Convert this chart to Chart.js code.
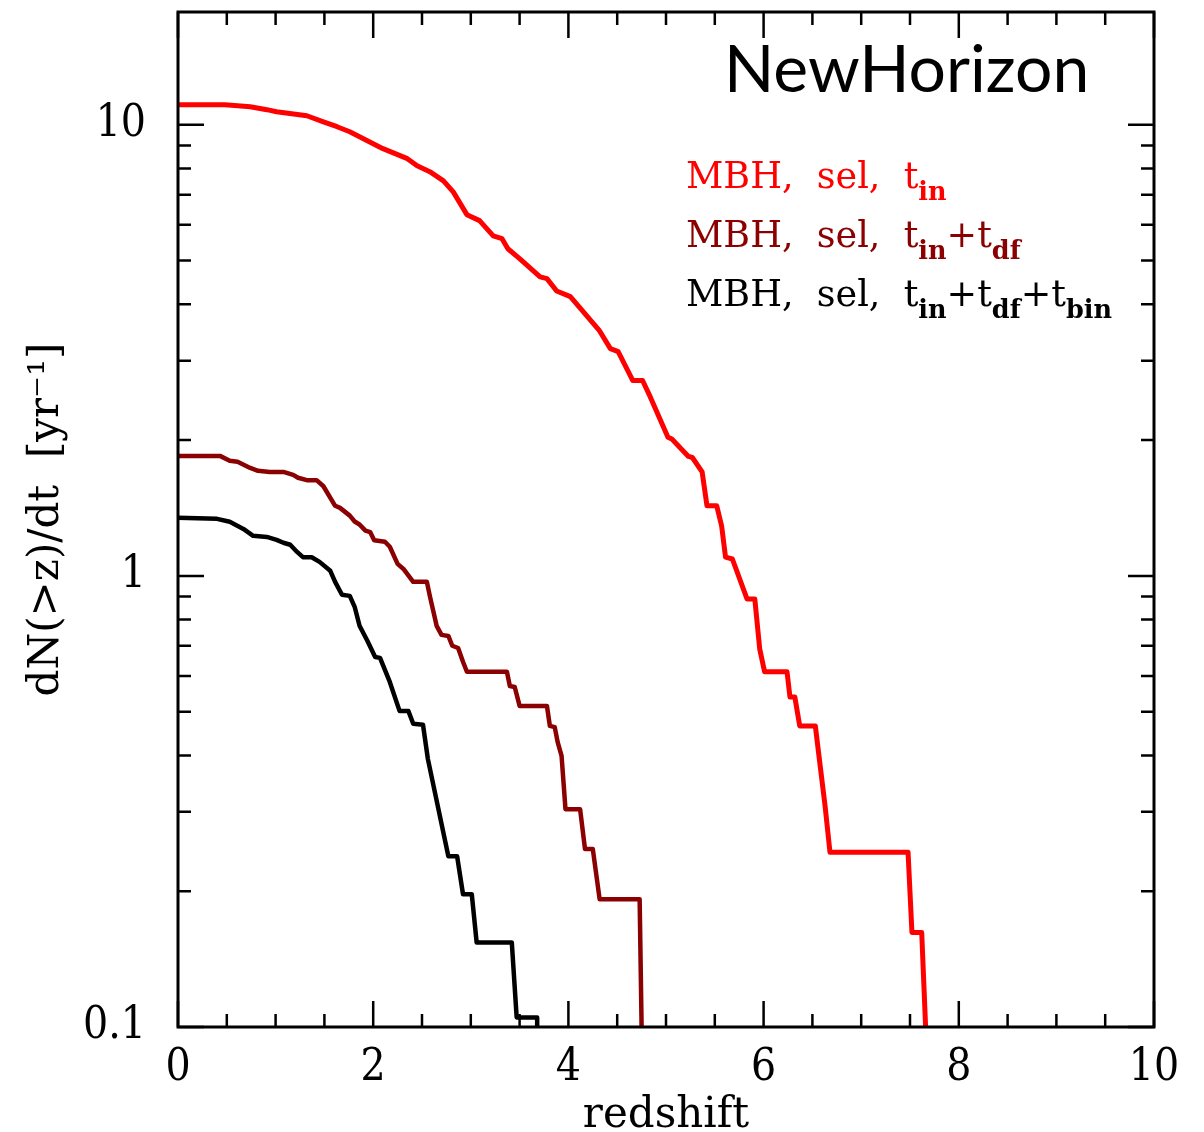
<!DOCTYPE html>
<html>
<head>
<meta charset="utf-8">
<script src="https://cdn.jsdelivr.net/npm/chart.js@4.4.1/dist/chart.umd.min.js"></script>
<style>
  html, body { margin: 0; padding: 0; background: #fff; }
  #wrap { position: relative; width: 1204px; height: 1132px; }
  #chart { position: absolute; left: 0; top: 0; }
  .note { position: absolute; white-space: nowrap; }
  #title { left: 724px; top: 34px; font-family: 'Lato', sans-serif; font-size: 66px; line-height: 1; color: #000; }
  .leg { left: 686px; font-family: 'DejaVu Serif', serif; font-size: 36.5px; line-height: 1; }
  .leg sub { font-size: 25.5px; font-weight: bold; vertical-align: -12px; }
</style>
</head>
<body>
<div id="wrap">
  <canvas id="chart" width="1204" height="1132"></canvas>
  <div id="title" class="note">NewHorizon</div>
  <div class="note leg" style="top:158px;color:#ff0000">MBH,&nbsp; sel,&nbsp; t<sub>in</sub></div>
  <div class="note leg" style="top:217px;color:#8b0000">MBH,&nbsp; sel,&nbsp; t<sub>in</sub>+t<sub>df</sub></div>
  <div class="note leg" style="top:276px;color:#000">MBH,&nbsp; sel,&nbsp; t<sub>in</sub>+t<sub>df</sub>+t<sub>bin</sub></div>
</div>
<script>
// --- dados (redshift, dN(>z)/dt) ---
const zIn = [0, 0.48, 0.74, 0.91, 1.01, 1.32, 1.49, 1.63, 1.76, 1.94, 2.10, 2.35, 2.45, 2.58, 2.72, 2.82, 2.96, 3.09, 3.23, 3.32, 3.38, 3.50, 3.71, 3.78, 3.88, 4.02, 4.32, 4.43, 4.51, 4.66, 4.76, 4.84, 5.02, 5.06, 5.23, 5.27, 5.37, 5.42, 5.52, 5.57, 5.61, 5.68, 5.83, 5.91, 5.96, 6.01, 6.24, 6.27, 6.32, 6.37, 6.53, 6.60, 6.63, 6.68, 7.48, 7.52, 7.62, 7.66];
const rateIn = [11.07, 11.07, 10.96, 10.80, 10.69, 10.47, 10.15, 9.90, 9.65, 9.22, 8.85, 8.41, 8.11, 7.87, 7.51, 7.10, 6.32, 6.13, 5.67, 5.59, 5.31, 5.05, 4.60, 4.56, 4.28, 4.16, 3.49, 3.19, 3.14, 2.71, 2.71, 2.49, 2.03, 2.01, 1.84, 1.83, 1.70, 1.43, 1.43, 1.29, 1.10, 1.09, 0.889, 0.889, 0.689, 0.613, 0.613, 0.539, 0.539, 0.465, 0.465, 0.349, 0.309, 0.244, 0.244, 0.162, 0.162, 0.1];

const zDf = [0, 0.43, 0.53, 0.61, 0.74, 0.82, 0.94, 1.08, 1.18, 1.23, 1.32, 1.42, 1.49, 1.61, 1.66, 1.76, 1.81, 1.86, 1.92, 1.97, 2.01, 2.12, 2.17, 2.25, 2.31, 2.41, 2.55, 2.58, 2.65, 2.70, 2.77, 2.81, 2.87, 2.92, 2.96, 3.37, 3.40, 3.45, 3.50, 3.78, 3.81, 3.86, 3.89, 3.93, 3.97, 4.12, 4.17, 4.25, 4.32, 4.73, 4.75];
const rateDf = [1.845, 1.845, 1.80, 1.79, 1.735, 1.71, 1.70, 1.70, 1.675, 1.65, 1.63, 1.63, 1.58, 1.43, 1.415, 1.36, 1.32, 1.30, 1.26, 1.25, 1.20, 1.19, 1.16, 1.063, 1.036, 0.970, 0.970, 0.903, 0.775, 0.740, 0.736, 0.700, 0.692, 0.645, 0.613, 0.613, 0.570, 0.567, 0.515, 0.515, 0.465, 0.462, 0.428, 0.399, 0.304, 0.304, 0.248, 0.248, 0.192, 0.192, 0.1];

const zBin = [0, 0.40, 0.53, 0.67, 0.77, 0.91, 1.01, 1.08, 1.15, 1.22, 1.28, 1.37, 1.45, 1.56, 1.61, 1.68, 1.76, 1.81, 1.86, 1.94, 2.02, 2.07, 2.17, 2.27, 2.36, 2.41, 2.51, 2.56, 2.77, 2.86, 2.92, 3.01, 3.06, 3.42, 3.47, 3.68, 3.68];
const rateBin = [1.345, 1.338, 1.318, 1.271, 1.227, 1.22, 1.202, 1.184, 1.172, 1.13, 1.10, 1.10, 1.074, 1.026, 0.970, 0.908, 0.903, 0.854, 0.775, 0.718, 0.661, 0.658, 0.582, 0.502, 0.502, 0.470, 0.468, 0.393, 0.239, 0.239, 0.197, 0.197, 0.154, 0.154, 0.105, 0.105, 0.1];

// --- ticks dos eixos ---
const xLabelTicks = [0, 2, 4, 6, 8, 10];
const xMinorTicks = [0.5, 1, 1.5, 2.5, 3, 3.5, 4.5, 5, 5.5, 6.5, 7, 7.5, 8.5, 9, 9.5];
const yLabelTicks = [0.1, 1, 10];
const yMinorTicks = [0.2, 0.3, 0.4, 0.5, 0.6, 0.7, 0.8, 0.9, 2, 3, 4, 5, 6, 7, 8, 9];

const serifNarrow = "'DejaVu Serif Condensed', 'DejaVu Serif', serif";
const serif = "'DejaVu Serif', serif";

function pares(xs, ys) {
    return xs.map((x, i) => ({ x: x, y: ys[i] }));
}

// Plugin que desenha a moldura e os ticks para dentro, nos quatro lados
const moldura = {
    id: 'moldura',
    afterDatasetsDraw(chart) {
        const { ctx, chartArea: a, scales: { x, y } } = chart;
        ctx.save();
        ctx.strokeStyle = '#000';
        ctx.lineWidth = 2.5;
        ctx.beginPath();
        const tickX = (v, len) => {
            const px = x.getPixelForValue(v);
            ctx.moveTo(px, a.bottom); ctx.lineTo(px, a.bottom - len);
            ctx.moveTo(px, a.top); ctx.lineTo(px, a.top + len);
        };
        const tickY = (v, len) => {
            const py = y.getPixelForValue(v);
            ctx.moveTo(a.left, py); ctx.lineTo(a.left + len, py);
            ctx.moveTo(a.right, py); ctx.lineTo(a.right - len, py);
        };
        xLabelTicks.forEach(v => tickX(v, 26));
        xMinorTicks.forEach(v => tickX(v, 13));
        yLabelTicks.forEach(v => tickY(v, 26));
        yMinorTicks.forEach(v => tickY(v, 13));
        ctx.stroke();
        ctx.lineWidth = 3;
        ctx.strokeRect(a.left, a.top, a.right - a.left, a.bottom - a.top);
        ctx.restore();
    }
};

const ctx = document.getElementById('chart').getContext('2d');
new Chart(ctx, {
    type: 'line',
    data: {
        datasets: [
            { label: 'MBH, sel, t_in', data: pares(zIn, rateIn), borderColor: '#ff0000', borderWidth: 5 },
            { label: 'MBH, sel, t_in+t_df', data: pares(zDf, rateDf), borderColor: '#8b0000', borderWidth: 4.5 },
            { label: 'MBH, sel, t_in+t_df+t_bin', data: pares(zBin, rateBin), borderColor: '#000000', borderWidth: 4.5 }
        ]
    },
    options: {
        responsive: false,
        animation: false,
        devicePixelRatio: 1,
        layout: { padding: { top: 12, right: 50, left: 0, bottom: 0 } },
        elements: { point: { radius: 0 }, line: { tension: 0, borderJoinStyle: 'round', fill: false } },
        plugins: { legend: { display: false }, tooltip: { enabled: false } },
        scales: {
            x: {
                type: 'linear', min: 0, max: 10,
                afterBuildTicks: s => { s.ticks = xLabelTicks.map(v => ({ value: v })); },
                afterFit: s => { s.height = 105; s.paddingLeft = 0; s.paddingRight = 0; },
                ticks: { color: '#000', padding: 7, font: { family: serifNarrow, size: 44 } },
                grid: { display: false },
                border: { display: false },
                title: { display: true, text: 'redshift', color: '#000', padding: { top: 0, bottom: -9 }, font: { family: serif, size: 42 } }
            },
            y: {
                type: 'logarithmic', min: 0.1, max: 17.78,
                afterBuildTicks: s => { s.ticks = yLabelTicks.map(v => ({ value: v })); },
                afterFit: s => { s.width = 178; s.paddingTop = 0; s.paddingBottom = 0; },
                ticks: { color: '#000', padding: 24, font: { family: serifNarrow, size: 44 }, callback: v => String(v) },
                grid: { display: false },
                border: { display: false },
                title: { display: true, text: 'dN(>z)/dt  [yr⁻¹]', color: '#000', padding: { top: 22, bottom: 0 }, font: { family: serif, size: 42 } }
            }
        }
    },
    plugins: [moldura]
});
</script>
</body>
</html>
